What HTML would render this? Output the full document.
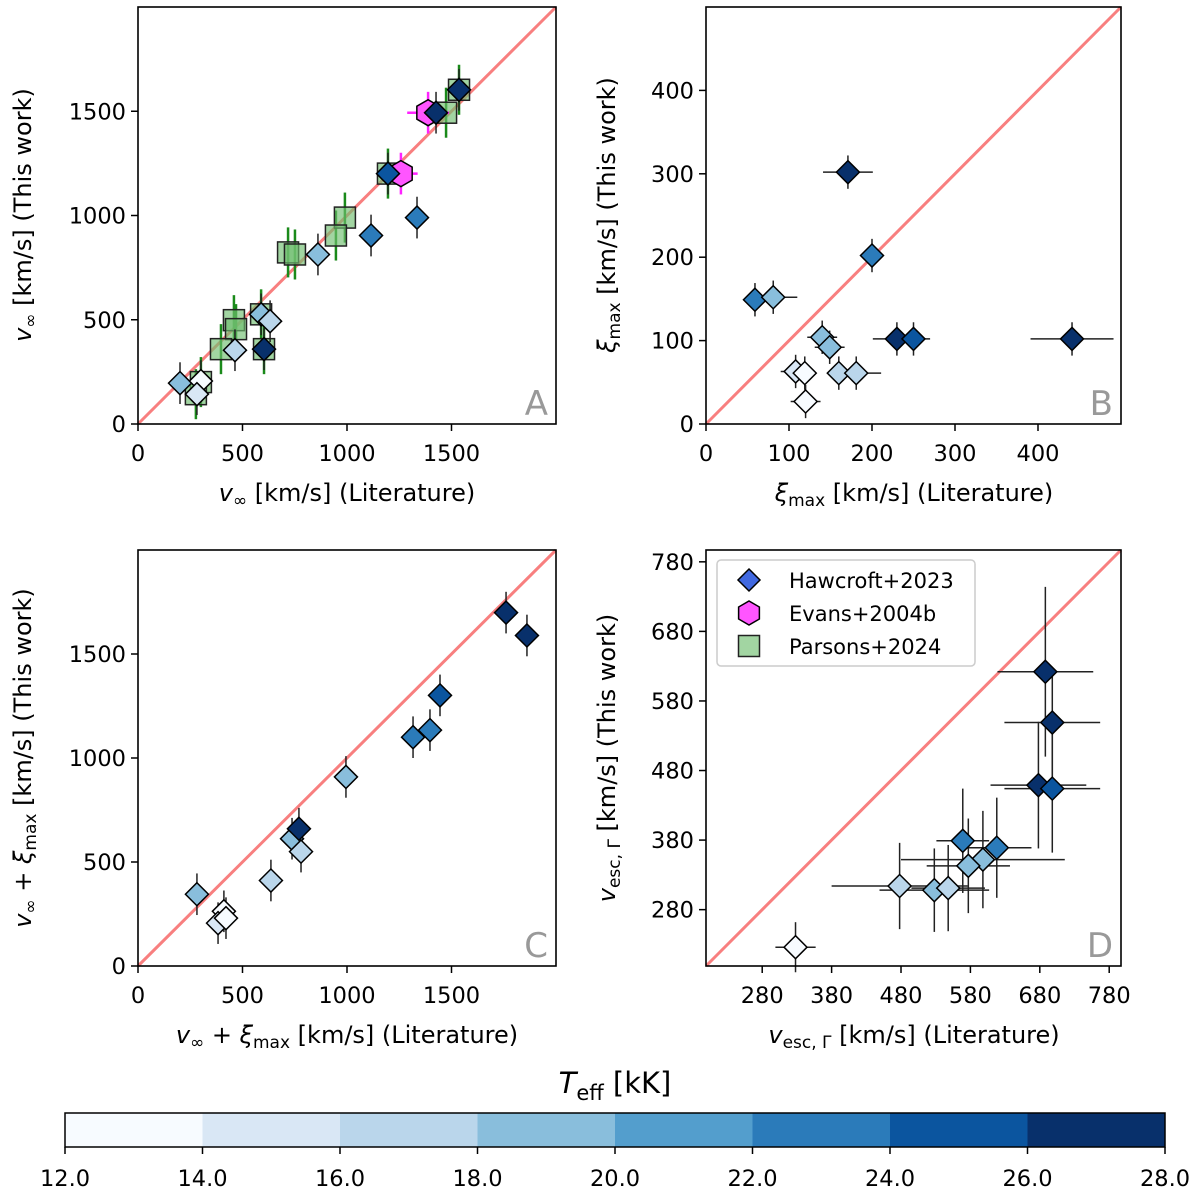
<!DOCTYPE html>
<html><head><meta charset="utf-8">
<style>
html,body{margin:0;padding:0;background:#fff;}
svg{display:block;font-family:"DejaVu Sans","Liberation Sans",sans-serif;}
</style></head>
<body>
<svg id="fig" width="1200" height="1194" viewBox="0 0 1200 1194" xmlns="http://www.w3.org/2000/svg"></svg>
<script>
// ---------- data ----------
// Panel A: v_inf
const aHawX=[201,301,282,464,589,632,603,861,1115,1335,1196,1426,1536];
const aHawY=[196,206,143,354,526,493,359,813,904,990,1201,1493,1603];
const aHawT=[19,13,15,17,19,17,27,19,23,23,25,27,27];
const aEvX=[1388,1258];
const aEvY=[1493,1201];
const aEvXerr=[100,80];
const aParX=[1536,1474,1196,990,947,718,751,459,469,589,397,603,301,277];
const aParY=[1603,1493,1201,990,904,823,813,498,455,526,359,359,201,143];
// Panel B: xi_max
const bX=[171,200,59,81,140,149,230,250,441,108,119,160,181,120];
const bY=[302,202,149,152,104,92,102,102,102,63,61,61,61,27];
const bXerr=[30,8,8,29,18,18,29,20,50,18,12,12,30,18];
const bT=[27,23,23,19,19,19,27,25,27,15,13,17,17,13];
// Panel C: v_inf + xi_max
const cX=[282,411,383,421,636,737,770,780,995,1316,1397,1445,1761,1861];
const cY=[345,263,206,230,411,612,660,550,909,1100,1134,1301,1699,1589];
const cT=[19,13,15,13,17,19,27,17,19,23,23,25,27,27];
// Panel D: v_esc
const dX=[688,698,678,698,569,618,598,577,478,528,548,328];
const dY=[622,549,459,454,379,369,352,343,314,308,311,226];
const dXerr=[69,69,69,69,38,50,118,60,98,79,53,29];
const dYerr=[122,80,91,92,75,72,70,68,62,60,62,36];
const dT=[27,27,27,25,23,23,19,19,17,19,17,13];
const cbTicks=[12,14,16,18,20,22,24,26,28];
const cbColors=["#f7fbff","#d9e7f5","#bad6eb","#89bedc","#539ecd","#2b7bba","#0b559f","#08306b"];

const NS="http://www.w3.org/2000/svg";
const svg=document.getElementById('fig');
function mk(tag,attrs,parent){const e=document.createElementNS(NS,tag);for(const k in attrs)e.setAttribute(k,attrs[k]);(parent||svg).appendChild(e);return e;}
function tcol(t){let i=Math.floor((t-12)/2);i=Math.max(0,Math.min(7,i));return cbColors[i];}

function makeAxes(name,L,T,W,H,min,max){
  const g=mk('g',{});
  
  
  const sx=v=>L+(v-min)/(max-min)*W;
  const sy=v=>T+H-(v-min)/(max-min)*H;
  return {g,sx,sy,L,T,W,H,min,max};
}
function frame(ax,ticks){
  const {g,L,T,W,H}=ax;
  ticks.forEach(t=>{
    const x=ax.sx(t),y=ax.sy(t);
    const lx=mk('line',{x1:x,y1:T+H,x2:x,y2:T+H+7,stroke:'#000','stroke-width':1.5},g);
    
    
    const tx=mk('text',{x:x,y:T+H+37,'font-size':22.5,'text-anchor':'middle'},g);tx.textContent=t;
    
    
    const ly=mk('line',{x1:L-7,y1:y,x2:L,y2:y,stroke:'#000','stroke-width':1.5},g);
    
    
    const ty=mk('text',{x:L-12,y:y+8,'font-size':22.5,'text-anchor':'end'},g);ty.textContent=t;
    
    
  });
}
function border(ax,letter){
  const {g,L,T,W,H}=ax;
  const r=mk('rect',{x:L,y:T,width:W,height:H,fill:'none',stroke:'#000','stroke-width':1.6},g);
  
  
  const t=mk('text',{x:L+W-8,y:T+H-9,'font-size':34,'text-anchor':'end',fill:'#999'},g);t.textContent=letter;
  
  
}
function diag(ax){
  const l=mk('line',{x1:ax.sx(ax.min),y1:ax.sy(ax.min),x2:ax.sx(ax.max),y2:ax.sy(ax.max),stroke:'#f87f7f','stroke-width':3},ax.g);
  
  
}
function errbar(ax,x,y,xe,ye,col,w){
  const g=ax.g;
  if(xe>0){const l=mk('line',{x1:ax.sx(x-xe),y1:ax.sy(y),x2:ax.sx(x+xe),y2:ax.sy(y),stroke:col,'stroke-width':w},g);
    
    }
  if(ye>0){const l=mk('line',{x1:ax.sx(x),y1:ax.sy(y-ye),x2:ax.sx(x),y2:ax.sy(y+ye),stroke:col,'stroke-width':w},g);
    
    }
}
function diamond(g,cx,cy,fill,r){
  r=r||11.5;
  const p=mk('polygon',{points:`${cx},${cy-r} ${cx+r},${cy} ${cx},${cy+r} ${cx-r},${cy}`,fill:fill,stroke:'#000','stroke-width':1.5},g);
  
  
  return p;
}
function square(g,cx,cy,s){
  const p=mk('rect',{x:cx-s/2,y:cy-s/2,width:s,height:s,fill:'rgba(112,190,112,0.65)',stroke:'#222','stroke-width':1.5},g);
  
  
  return p;
}
function hexagon(g,cx,cy,r){
  let pts=[];for(let i=0;i<6;i++){const a=Math.PI/6+i*Math.PI/3;pts.push((cx+r*Math.cos(a))+','+(cy+r*Math.sin(a)));}
  const p=mk('polygon',{points:pts.join(' '),fill:'#ff55ff',stroke:'#000','stroke-width':1.5},g);
  
  
  return p;
}
function text(x,y,html,attrs,name){
  const t=mk('text',Object.assign({x:x,y:y,'font-size':24},attrs||{}));
  t.innerHTML=html;
  
  
  return t;
}

// ---------- Panel A ----------
const A=makeAxes('panel-a',138,7,418,417,0,2000);
diag(A);
aParX.forEach((x,i)=>errbar(A,x,aParY[i],0,120,'#1a8a1a',2.5));
aParX.forEach((x,i)=>square(A.g,A.sx(x),A.sy(aParY[i]),21));
aEvX.forEach((x,i)=>errbar(A,x,aEvY[i],aEvXerr[i],100,'#ff22ff',2.5));
aEvX.forEach((x,i)=>hexagon(A.g,A.sx(x),A.sy(aEvY[i]),13));
aHawX.forEach((x,i)=>errbar(A,x,aHawY[i],0,100,'#222',1.5));
aHawX.forEach((x,i)=>diamond(A.g,A.sx(x),A.sy(aHawY[i]),tcol(aHawT[i])));
frame(A,[0,500,1000,1500]);border(A,'A');

// ---------- Panel B ----------
const B=makeAxes('panel-b',706,7,415,417,0,500);
diag(B);
bX.forEach((x,i)=>errbar(B,x,bY[i],bXerr[i],20,'#222',1.5));
bX.forEach((x,i)=>diamond(B.g,B.sx(x),B.sy(bY[i]),tcol(bT[i])));
frame(B,[0,100,200,300,400]);border(B,'B');

// ---------- Panel C ----------
const C=makeAxes('panel-c',138,550,418,416,0,2000);
diag(C);
cX.forEach((x,i)=>errbar(C,x,cY[i],0,100,'#222',1.5));
cX.forEach((x,i)=>diamond(C.g,C.sx(x),C.sy(cY[i]),tcol(cT[i])));
frame(C,[0,500,1000,1500]);border(C,'C');

// ---------- Panel D ----------
const D=makeAxes('panel-d',706,550,415,416,199,797);
diag(D);
dX.forEach((x,i)=>errbar(D,x,dY[i],dXerr[i],dYerr[i],'#222',1.5));
dX.forEach((x,i)=>diamond(D.g,D.sx(x),D.sy(dY[i]),tcol(dT[i])));
frame(D,[280,380,480,580,680,780]);border(D,'D');

// legend
const lg=mk('g',{});


const lb=mk('rect',{x:717,y:560,width:258,height:106,rx:4,fill:'#fff','fill-opacity':0.8,stroke:'#ccc','stroke-width':1.5},lg);


diamond(lg,749,580,'#4169e1',11);
hexagon(lg,749,613,12);
square(lg,749,646,21);
[['Hawcroft+2023',580],['Evans+2004b',613],['Parsons+2024',646]].forEach(([s,y])=>{
  const t=mk('text',{x:789,y:y+8,'font-size':21},lg);t.textContent=s;
  
  
});

// axis labels
const sub='font-size="17" dy="5"';
text(347,501,'<tspan font-style="italic">v</tspan><tspan '+sub+'>∞</tspan><tspan dy="-5"> [km/s] (Literature)</tspan>',{'text-anchor':'middle'},'x-axis-title-a');
text(914,501,'<tspan font-style="italic">ξ</tspan><tspan '+sub+'>max</tspan><tspan dy="-5"> [km/s] (Literature)</tspan>',{'text-anchor':'middle'},'x-axis-title-b');
text(347,1043,'<tspan font-style="italic">v</tspan><tspan '+sub+'>∞</tspan><tspan dy="-5"> + </tspan><tspan font-style="italic">ξ</tspan><tspan '+sub+'>max</tspan><tspan dy="-5"> [km/s] (Literature)</tspan>',{'text-anchor':'middle'},'x-axis-title-c');
text(914,1043,'<tspan font-style="italic">v</tspan><tspan '+sub+'>esc, Γ</tspan><tspan dy="-5"> [km/s] (Literature)</tspan>',{'text-anchor':'middle'},'x-axis-title-d');
text(0,0,'<tspan font-style="italic">v</tspan><tspan '+sub+'>∞</tspan><tspan dy="-5"> [km/s] (This work)</tspan>',{'text-anchor':'middle',transform:'translate(31,215) rotate(-90)'},'y-axis-title-a');
text(0,0,'<tspan font-style="italic">ξ</tspan><tspan '+sub+'>max</tspan><tspan dy="-5"> [km/s] (This work)</tspan>',{'text-anchor':'middle',transform:'translate(615,215) rotate(-90)'},'y-axis-title-b');
text(0,0,'<tspan font-style="italic">v</tspan><tspan '+sub+'>∞</tspan><tspan dy="-5"> + </tspan><tspan font-style="italic">ξ</tspan><tspan '+sub+'>max</tspan><tspan dy="-5"> [km/s] (This work)</tspan>',{'text-anchor':'middle',transform:'translate(31,758) rotate(-90)'},'y-axis-title-c');
text(0,0,'<tspan font-style="italic">v</tspan><tspan '+sub+'>esc, Γ</tspan><tspan dy="-5"> [km/s] (This work)</tspan>',{'text-anchor':'middle',transform:'translate(615,758) rotate(-90)'},'y-axis-title-d');

// colorbar
const cb=mk('g',{});


const cbL=65,cbW=1100,cbT=1113,cbH=34;
const cbx=v=>cbL+(v-cbTicks[0])/(cbTicks[cbTicks.length-1]-cbTicks[0])*cbW;
cbColors.forEach((c,i)=>{
  const r=mk('rect',{x:cbx(cbTicks[i]),y:cbT,width:cbx(cbTicks[i+1])-cbx(cbTicks[i]),height:cbH,fill:c},cb);
  
  
});
const cbf=mk('rect',{x:cbL,y:cbT,width:cbW,height:cbH,fill:'none',stroke:'#000','stroke-width':1.5},cb);


cbTicks.forEach(t=>{
  const l=mk('line',{x1:cbx(t),y1:cbT+cbH,x2:cbx(t),y2:cbT+cbH+7,stroke:'#000','stroke-width':1.5},cb);
  
  
  const tx=mk('text',{x:cbx(t),y:1186,'font-size':22.5,'text-anchor':'middle'},cb);tx.textContent=t.toFixed(1);
  
  
});
text(615,1093,'<tspan font-style="italic">T</tspan><tspan font-size="21" dy="7">eff</tspan><tspan dy="-7"> [kK]</tspan>',{'text-anchor':'middle','font-size':29},'colorbar-title');
</script>
</body></html>
